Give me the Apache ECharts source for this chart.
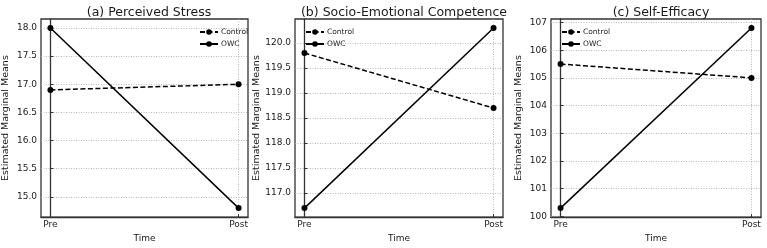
<!DOCTYPE html>
<html>
<head>
<meta charset="utf-8">
<script src="https://cdn.jsdelivr.net/npm/echarts@6/dist/echarts.min.js"></script>
<style>
  html, body { margin: 0; padding: 0; background: #fff; }
  #chart { width: 767px; height: 248px; }
</style>
</head>
<body>
<div id="chart"></div>
<script>
  // categories
  const timePoints = ["Pre", "Post"];
  const panelTitles = ["(a) Perceived Stress", "(b) Socio-Emotional Competence", "(c) Self-Efficacy"];

  // series values (estimated marginal means)
  const stressControl = [16.9, 17.0];
  const stressOWC = [18.0, 14.8];
  const secControl = [119.8, 118.7];
  const secOWC = [116.7, 120.3];
  const seControl = [105.5, 105.0];
  const seOWC = [100.3, 106.8];

  // tick labels
  const stressTicks = [15.0, 15.5, 16.0, 16.5, 17.0, 17.5, 18.0];
  const secTicks = [117.0, 117.5, 118.0, 118.5, 119.0, 119.5, 120.0];
  const seTicks = [100, 101, 102, 103, 104, 105, 106, 107];

  const font = "DejaVu Sans";
  const ink = "#1a1a1a";

  // layout of the three panels
  const grids = [
    { left: 40, top: 19, width: 208, height: 206 },
    { left: 295, top: 19, width: 208, height: 206 },
    { left: 551, top: 19, width: 210, height: 206 },
  ];
  const yRanges = [[14.64, 18.16], [116.52, 120.48], [99.975, 107.125]];
  const yTicks = [stressTicks, secTicks, seTicks];
  const yDecimals = [1, 1, 0];
  const nameGaps = [30, 33, 27];
  const legendPos = [{ left: 194, top: 23 }, { left: 300, top: 23 }, { left: 556, top: 23 }];
  const panelData = [
    [stressControl, stressOWC],
    [secControl, secOWC],
    [seControl, seOWC],
  ];

  const toPoints = (vals) => vals.map((v, i) => [i, v]);

  let myChart = echarts.init(document.getElementById("chart"));
  let option = {
    animation: false,
    textStyle: { fontFamily: font, color: ink },
    title: grids.map((g, i) => ({
      text: panelTitles[i],
      left: g.left + g.width / 2,
      textAlign: "center",
      top: 1,
      textStyle: { fontFamily: font, fontSize: 12.5, fontWeight: "normal", color: ink },
    })),
    legend: legendPos.map((p) => ({
      left: p.left,
      top: p.top,
      orient: "vertical",
      itemWidth: 18,
      itemHeight: 7,
      itemGap: 4,
      textStyle: { fontFamily: font, fontSize: 7.5, color: ink, padding: [0, 0, 0, -2] },
      data: ["Control", "OWC"],
    })),
    grid: grids.map((g) => ({
      left: g.left,
      top: g.top,
      width: g.width,
      height: g.height,
      show: true,
      borderColor: "#333",
      borderWidth: 1.3,
      containLabel: false,
    })),
    xAxis: grids.map((g, i) => ({
      type: "value",
      gridIndex: i,
      min: -0.05,
      max: 1.05,
      name: "Time",
      nameLocation: "middle",
      nameGap: 12,
      nameTextStyle: { fontFamily: font, fontSize: 9, color: ink },
      axisLine: { show: true, lineStyle: { color: "#333", width: 1.3 } },
      axisTick: { show: true, inside: true, length: 3, customValues: [0, 1], lineStyle: { color: "#333" } },
      axisLabel: {
        customValues: [0, 1],
        margin: 3,
        fontFamily: font,
        fontSize: 9,
        color: ink,
        formatter: (v) => timePoints[Math.round(v)],
      },
      splitLine: { show: true, lineStyle: { color: "#aaa", type: [1, 1.5], width: 0.8 } },
    })),
    yAxis: grids.map((g, i) => ({
      type: "value",
      gridIndex: i,
      min: yRanges[i][0],
      max: yRanges[i][1],
      name: "Estimated Marginal Means",
      nameLocation: "middle",
      nameGap: nameGaps[i],
      nameTextStyle: { fontFamily: font, fontSize: 9.5, color: ink },
      axisLine: { show: true, lineStyle: { color: "#333", width: 1.3 } },
      axisTick: { show: true, inside: true, length: 3, customValues: yTicks[i], lineStyle: { color: "#333" } },
      axisLabel: {
        customValues: yTicks[i],
        margin: 4,
        fontFamily: font,
        fontSize: 9,
        color: ink,
        formatter: (v) => v.toFixed(yDecimals[i]),
      },
      splitLine: { show: true, lineStyle: { color: "#aaa", type: [1, 1.5], width: 0.8 } },
    })),
    series: [],
  };

  panelData.forEach((pair, i) => {
    option.series.push({
      name: "Control",
      type: "line",
      xAxisIndex: i,
      yAxisIndex: i,
      data: toPoints(pair[0]),
      symbol: "circle",
      symbolSize: 6,
      lineStyle: { color: "#000", width: 1.5, type: [5, 2.5] },
      itemStyle: { color: "#000" },
    });
    option.series.push({
      name: "OWC",
      type: "line",
      xAxisIndex: i,
      yAxisIndex: i,
      data: toPoints(pair[1]),
      symbol: "circle",
      symbolSize: 6,
      lineStyle: { color: "#000", width: 1.5 },
      itemStyle: { color: "#000" },
    });
  });

  myChart.setOption(option);
</script>
</body>
</html>
